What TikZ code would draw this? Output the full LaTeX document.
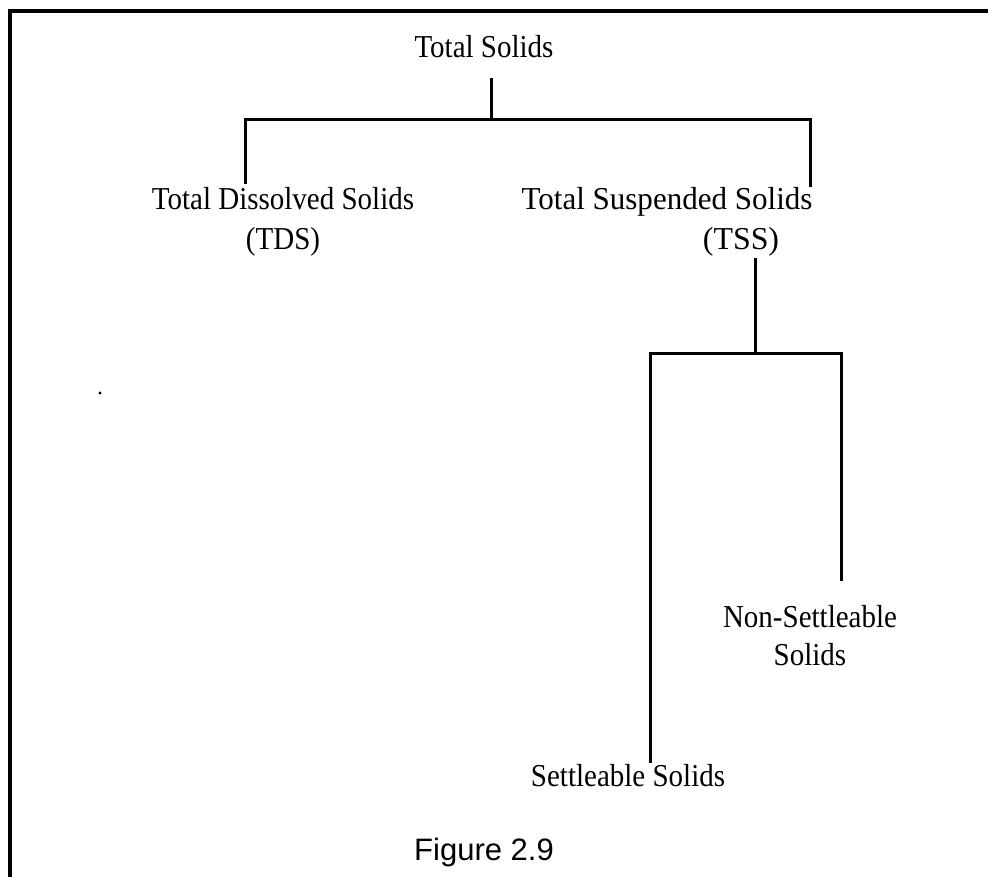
\documentclass[tikz,border=0pt]{standalone}
\usepackage{fontspec}
\setmainfont{Liberation Serif}
\newfontfamily\figfont{Liberation Sans}
\newcommand{\tall}[2][1]{\scalebox{#1}[1.1]{#2}}
\begin{document}
\begin{tikzpicture}[x=1pt,y=-1pt,
  lbl/.style={inner sep=0pt,anchor=base,font=\fontsize{29}{35}\selectfont},
  tree/.style={line width=3pt},
  frame/.style={line width=4.5pt}]
\useasboundingbox (0,0) rectangle (988,877);
% frame
\draw[frame] (10,877) -- (10,11) -- (988,11);
% texts
\node[lbl] (ts) at (484,58) {\tall{Total Solids}};
\node[lbl] (tds) at (283,210) {\tall{Total Dissolved Solids}};
\node[lbl] (tdsa) at (283,250) {\tall{(TDS)}};
\node[lbl] (tss) at (667,210) {\tall[1.07]{Total Suspended Solids}};
\node[lbl] (tssa) at (741,250) {\tall[1.1]{(TSS)}};
\node[lbl] (nss) at (810,627) {\tall{Non-Settleable}};
\node[lbl] (nssb) at (810,665) {\tall{Solids}};
\node[lbl] (ss) at (628,786) {\tall{Settleable Solids}};
\node[inner sep=0pt,anchor=base,font=\figfont\fontsize{31}{37}\selectfont] (fig) at (484,860) {Figure 2.9};
% connectors
\coordinate (a1) at (491,78);
\coordinate (a2) at (491,120);
\coordinate (l1) at (245,120);
\coordinate (l2) at (245,184);
\coordinate (r1) at (810,120);
\coordinate (r2) at (810,187);
\draw[tree] (a1) -- (a2);
\draw[tree] (l2) -- (l1) -- (r1) -- (r2);
\coordinate (b1) at (755,258);
\coordinate (b2) at (755,353);
\coordinate (bl1) at (650,353);
\coordinate (bl2) at (650,763);
\coordinate (br1) at (841,353);
\coordinate (br2) at (841,581);
\draw[tree] (b1) -- (b2);
\draw[tree] (bl2) -- (bl1) -- (br1) -- (br2);
% stray dot
\fill (100,393) circle (1.6);
\end{tikzpicture}
\end{document}
